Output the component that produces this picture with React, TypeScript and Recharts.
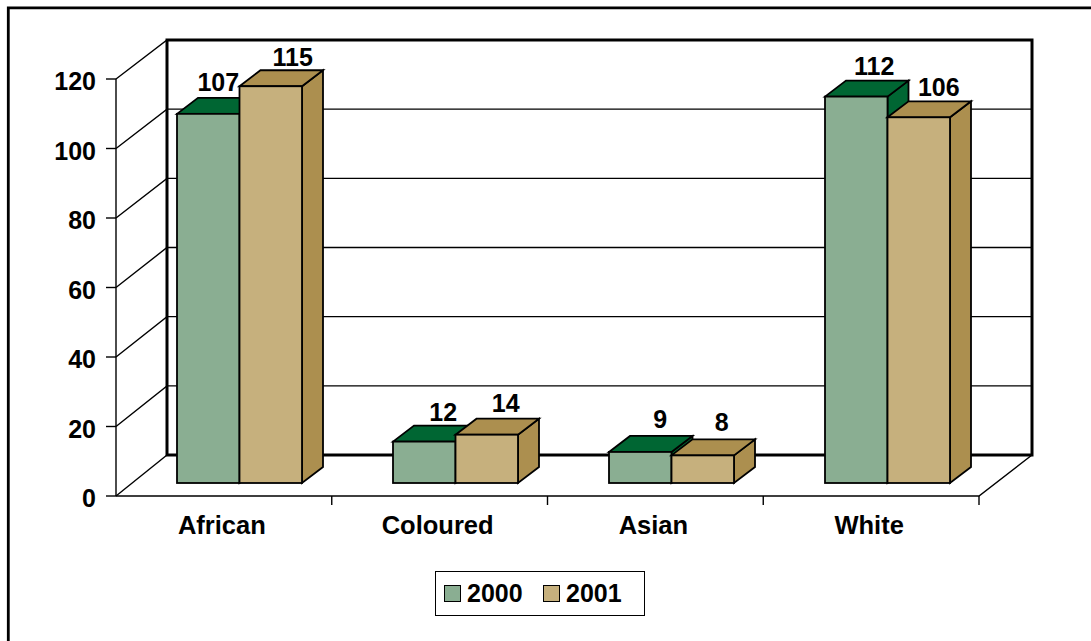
import React from 'react';
import { BarChart, Bar, XAxis, YAxis, ReferenceLine, LabelList, Legend } from 'recharts';

const categories = ['African', 'Coloured', 'Asian', 'White'];
const values2000 = [107, 12, 9, 112];
const values2001 = [115, 14, 8, 106];
const yTicks = [0, 20, 40, 60, 80, 100, 120];
const gridValues = [20, 40, 60, 80, 100, 120];

const rows = categories.map((category, i) => ({
  category,
  y2000: values2000[i],
  y2001: values2001[i],
}));

const WIDTH = 1091;
const HEIGHT = 641;
const FONT = '"Liberation Sans", Arial, sans-serif';
const INK = '#000';

// Box geometry of the pseudo-3D floor and back wall.
const PLOT_LEFT = 116;
const PLOT_RIGHT = 1032;
const FRONT_TOP = 79;
const FRONT_BOTTOM = 496;
const WALL_TOP = 40;
const WALL_BOTTOM = 455;
const WALL_DX = 51;
const FLOOR_RIGHT_INSET = 53;
const BAND = (PLOT_RIGHT - PLOT_LEFT - FLOOR_RIGHT_INSET) / 4;

// Extrusion of each bar.
const BAR_DX = 21;
const BAR_DY = 16;

const GREEN = { front: '#8AAE92', dark: '#006633' };
const TAN = { front: '#C6B07D', dark: '#AC8F4F' };

// The value axis used by the bars sits slightly in front of the wall scale.
const BAR_DOMAIN = [-3.768, 117.1];

function bar3d(colors: { front: string; dark: string }) {
  return (props: any) => {
    const { x, y, width, height } = props;
    const r = x + width;
    const b = y + height;
    const line = { stroke: INK, strokeWidth: 1.8, strokeLinejoin: 'miter' as const };
    return (
      <g>
        <polygon
          points={`${r},${y} ${r + BAR_DX},${y - BAR_DY} ${r + BAR_DX},${b - BAR_DY} ${r},${b}`}
          fill={colors.dark}
          {...line}
        />
        <polygon
          points={`${x},${y} ${x + BAR_DX},${y - BAR_DY} ${r + BAR_DX},${y - BAR_DY} ${r},${y}`}
          fill={colors.dark}
          {...line}
        />
        <rect x={x} y={y} width={width} height={height} fill={colors.front} {...line} />
      </g>
    );
  };
}

// Small nudges where the value labels would otherwise collide with a neighbour.
const labelNudge: Record<string, [number, number]> = {
  '107': [-9, -1],
  '115': [3, 2],
  '112': [-1, 0],
  '106': [1, 1],
  '14': [0, -1],
  '9': [1, -2],
  '8': [0, -2],
  '12': [0, 1],
};

function ValueLabel(props: any) {
  const { x, y, width, value } = props;
  const [nx, ny] = labelNudge[String(value)] ?? [0, 0];
  return (
    <text
      x={x + width / 2 + 19 + nx}
      y={y - 31 + ny}
      textAnchor="middle"
      dominantBaseline="central"
      fontFamily={FONT}
      fontWeight="bold"
      fontSize={25}
      fill={INK}
    >
      {value}
    </text>
  );
}

function YTick(props: any) {
  const { x, y, payload } = props;
  return (
    <text
      x={x - 1}
      y={y + 2}
      textAnchor="end"
      dominantBaseline="central"
      fontFamily={FONT}
      fontWeight="bold"
      fontSize={25}
      fill={INK}
    >
      {payload.value}
    </text>
  );
}

function XTick(props: any) {
  const { x, y, payload } = props;
  const edge = x + BAND / 2;
  return (
    <g>
      <line x1={edge} y1={FRONT_BOTTOM} x2={edge} y2={FRONT_BOTTOM + 9} stroke={INK} strokeWidth={1.4} />
      <text
        x={x - 2}
        y={y}
        textAnchor="middle"
        dominantBaseline="central"
        fontFamily={FONT}
        fontWeight="bold"
        fontSize={25.5}
        fill={INK}
      >
        {payload.value}
      </text>
    </g>
  );
}

// Horizontal rule that runs along the side wall and then across the back wall.
function WallRule(props: any) {
  const y = props.y1;
  const back = WALL_BOTTOM - ((FRONT_BOTTOM - y) * (WALL_BOTTOM - WALL_TOP)) / (FRONT_BOTTOM - FRONT_TOP);
  return (
    <polyline
      points={`${PLOT_LEFT},${y} ${PLOT_LEFT + WALL_DX},${back} ${PLOT_RIGHT},${back}`}
      fill="none"
      stroke={INK}
      strokeWidth={1.4}
    />
  );
}

// The heavy outline of the back wall, plus the floor edges, anchored at value 0.
function WallFrame(props: any) {
  const y = props.y1;
  const frontRight = PLOT_RIGHT - FLOOR_RIGHT_INSET;
  return (
    <g>
      <polyline
        points={`${PLOT_LEFT},${y} ${PLOT_LEFT + WALL_DX},${WALL_BOTTOM}`}
        fill="none"
        stroke={INK}
        strokeWidth={1.4}
      />
      <polyline
        points={`${PLOT_LEFT},${y} ${frontRight},${y} ${PLOT_RIGHT},${WALL_BOTTOM}`}
        fill="none"
        stroke={INK}
        strokeWidth={1.4}
      />
      <line x1={PLOT_LEFT} y1={y} x2={PLOT_LEFT} y2={FRONT_TOP} stroke={INK} strokeWidth={1.4} />
      <rect
        x={PLOT_LEFT + WALL_DX}
        y={WALL_TOP}
        width={PLOT_RIGHT - PLOT_LEFT - WALL_DX}
        height={WALL_BOTTOM - WALL_TOP}
        fill="none"
        stroke={INK}
        strokeWidth={3}
      />
    </g>
  );
}

function LegendBox() {
  const item = (color: string, text: string, width: number) => (
    <span style={{ display: 'inline-flex', alignItems: 'center', width }}>
      <span
        style={{
          width: 15,
          height: 15,
          background: color,
          border: '1.5px solid #000',
          marginRight: 6,
          display: 'inline-block',
          boxSizing: 'content-box',
        }}
      />
      <span>{text}</span>
    </span>
  );
  return (
    <div
      style={{
        boxSizing: 'border-box',
        width: 210,
        height: 45,
        border: '1.5px solid #000',
        paddingLeft: 8,
        display: 'flex',
        alignItems: 'center',
        fontFamily: FONT,
        fontWeight: 'bold',
        fontSize: 25,
        color: INK,
        background: '#fff',
      }}
    >
      {item(GREEN.front, '2000', 99)}
      {item(TAN.front, '2001', 99)}
    </div>
  );
}

export default function App() {
  return (
    <div style={{ position: 'absolute', left: 0, top: 0, width: WIDTH, height: HEIGHT, overflow: 'hidden', background: '#fff' }}>
      {/* Page frame around the chart */}
      <svg width={WIDTH} height={HEIGHT} style={{ position: 'absolute', left: 0, top: 0 }}>
        <polyline
          points={`8.3,${HEIGHT} 8.3,7.8 ${WIDTH},7.8`}
          fill="none"
          stroke={INK}
          strokeWidth={2.8}
        />
      </svg>
      <BarChart
        width={WIDTH}
        height={HEIGHT}
        data={rows}
        barSize={62.5}
        barGap={0}
        margin={{ top: FRONT_TOP, right: WIDTH - PLOT_RIGHT, bottom: 105, left: 0 }}
        style={{ position: 'absolute', left: 0, top: 0 }}
      >
        <XAxis
          xAxisId="front"
          dataKey="category"
          height={40}
          axisLine={false}
          tickLine={false}
          padding={{ left: 0, right: FLOOR_RIGHT_INSET }}
          interval={0}
          tick={<XTick />}
          tickMargin={23}
        />
        <XAxis
          xAxisId="bars"
          dataKey="category"
          hide
          height={0}
          padding={{ left: 15, right: 37 }}
        />
        <YAxis
          yAxisId="front"
          width={PLOT_LEFT}
          domain={[0, 120]}
          allowDataOverflow
          ticks={yTicks}
          interval={0}
          axisLine={false}
          tickSize={10}
          tickMargin={9}
          tickLine={{ stroke: INK, strokeWidth: 1.4 }}
          tick={<YTick />}
        />
        <YAxis yAxisId="bars" hide width={0} domain={BAR_DOMAIN} />
        {gridValues.map((v) => (
          <ReferenceLine
            key={v}
            xAxisId="front"
            yAxisId="front"
            y={v}
            shape={<WallRule />}
            zIndex={100}
          />
        ))}
        <ReferenceLine xAxisId="front" yAxisId="front" y={0} shape={<WallFrame />} zIndex={100} />
        <Bar
          xAxisId="bars"
          yAxisId="bars"
          dataKey="y2000"
          name="2000"
          fill={GREEN.front}
          isAnimationActive={false}
          shape={bar3d(GREEN)}
        >
          <LabelList dataKey="y2000" content={<ValueLabel />} />
        </Bar>
        <Bar
          xAxisId="bars"
          yAxisId="bars"
          dataKey="y2001"
          name="2001"
          fill={TAN.front}
          isAnimationActive={false}
          shape={bar3d(TAN)}
        >
          <LabelList dataKey="y2001" content={<ValueLabel />} />
        </Bar>
        <Legend
          layout="horizontal"
          verticalAlign="middle"
          align="center"
          content={<LegendBox />}
          wrapperStyle={{ position: 'absolute', left: 435, top: 570.5, width: 210, height: 45, margin: 0 }}
        />
      </BarChart>
    </div>
  );
}
